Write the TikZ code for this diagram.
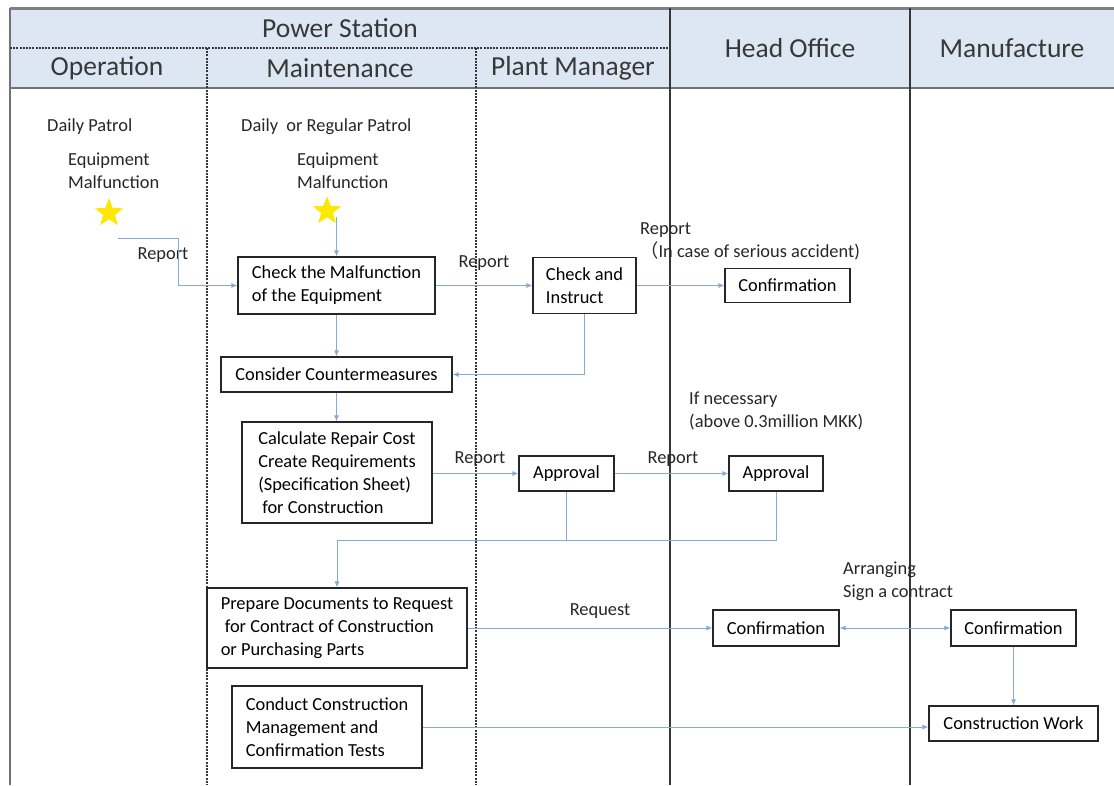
\documentclass[tikz,border=0pt]{standalone}
\usepackage{fontspec}
\setmainfont{Carlito}
\newfontfamily\cjk{Noto Sans CJK JP}
\usetikzlibrary{arrows.meta,calc,positioning,shapes.geometric}

\definecolor{headblue}{RGB}{221,231,243}
\definecolor{flowblue}{RGB}{135,170,210}
\definecolor{lanegray}{RGB}{55,55,55}
\definecolor{stargold}{RGB}{255,232,0}

\begin{document}
\begin{tikzpicture}[x=1pt,y=-1pt,>={Latex[length=6pt,width=5pt]},
    box/.style={draw=black!85,line width=1.1pt,fill=white,align=left,inner sep=2pt,
      font=\fontsize{18.4}{23}\selectfont},
    lbl/.style={align=left,inner sep=0pt,text=black!85,font=\fontsize{18.4}{23}\selectfont},
    hdr/.style={inner sep=0pt,text=black!78,font=\fontsize{27.5}{30}\selectfont},
    flow/.style={draw=flowblue,line width=1pt,->},
    flowline/.style={draw=flowblue,line width=1pt},
    lane/.style={draw=lanegray,line width=1.5pt},
    sublane/.style={draw=lanegray,line width=1.1pt,dash pattern=on 2pt off 1.2pt},
    patrolstar/.style={star,star points=5,star point ratio=2.4,fill=stargold,minimum size=30pt,inner sep=0pt}]
  \useasboundingbox (0,0) rectangle (1114,785);
  % header band and lanes
  \fill[headblue] (10,8) rectangle (1114,88);
  \draw[draw=black!50,line width=3pt] (10,8) -- (1114,8);
  \draw[draw=black!55,line width=2pt] (10,88) -- (1114,88);
  \draw[draw=black!55,line width=1.5pt] (10,8) -- (10,785);
  \draw[sublane] (10,48) -- (670,48);
  \draw[sublane] (207,48) -- (207,785);
  \draw[sublane] (476,48) -- (476,785);
  \draw[lane] (670,8) -- (670,785);
  \draw[lane] (910,8) -- (910,785);
  \node[hdr] (station) at (340,28) {Power Station};
  \node[hdr] (operation) at (107,68) {Operation};
  \node[hdr] (maint) at (340,68) {Maintenance};
  \node[hdr] (manager) at (573,68) {Plant Manager};
  \node[hdr] (office) at (790,48) {Head Office};
  \node[hdr] (maker) at (1012,48) {Manufacture};

  % patrols
  \node[lbl,anchor=west] (dpatrol) at (47,127) {Daily Patrol};
  \node[lbl,anchor=west] (malf1) at (68,171) {Equipment\\Malfunction};
  \node[patrolstar] (st1) at (109,213) {};
  \node[lbl,anchor=west] (rpatrol) at (241,127) {Daily~ or Regular Patrol};
  \node[lbl,anchor=west] (malf2) at (297,171) {Equipment\\Malfunction};
  \node[patrolstar] (st2) at (327,211) {};
  \coordinate (rep1) at (118,238);

  % boxes
  \node[box,minimum width=197pt,minimum height=57pt] (chk) at (336.5,285.5) {Check the Malfunction\\of the Equipment};
  \node[box,minimum width=103pt,minimum height=56pt] (inst) at (584.5,285.5) {Check and\\Instruct};
  \node[box,minimum width=125pt,minimum height=34pt] (conf1) at (787.5,285.5) {Confirmation};
  \node[box,minimum width=231pt,minimum height=35pt] (cntr) at (336.5,374.5) {Consider Countermeasures};
  \node[box,minimum width=190pt,minimum height=101pt] (calc) at (337,472.5) {Calculate Repair Cost\\Create Requirements\\(Specification Sheet)\\\hspace{4pt}for Construction};
  \node[box,minimum width=95pt,minimum height=35pt] (appr1) at (566.5,473.5) {Approval};
  \node[box,minimum width=94pt,minimum height=35pt] (appr2) at (776,473.5) {Approval};
  \node[box,minimum width=260pt,minimum height=80pt] (prep) at (337,628) {Prepare Documents to Request\\\hspace{4pt}for Contract of Construction\\or Purchasing Parts};
  \node[box,minimum width=126pt,minimum height=36pt] (conf2) at (776,628) {Confirmation};
  \node[box,minimum width=125pt,minimum height=36pt] (conf3) at (1013.5,628) {Confirmation};
  \node[box,minimum width=169pt,minimum height=35pt] (work) at (1013.5,723.5) {Construction Work};
  \node[box,minimum width=190pt,minimum height=82pt] (cond) at (327,727) {Conduct Construction\\Management and\\Confirmation Tests};
  \coordinate (mrg) at (337,540);

  % labels
  \node[lbl] (rlab1) at (163,255) {Report};
  \node[lbl] (rlab2) at (484,263) {Report};
  \node[lbl,anchor=west] (rlab3) at (640,241) {Report\\{\cjk （}In case of serious accident)};
  \node[lbl,anchor=west] (need) at (689,411) {If necessary\\(above 0.3million MKK)};
  \node[lbl] (rlab4) at (480,459) {Report};
  \node[lbl] (rlab5) at (673,459) {Report};
  \node[lbl] (req) at (600,611) {Request};
  \node[lbl,anchor=west] (arr) at (843,581) {Arranging\\Sign a contract};

  % flows
  \draw[flow] (rep1) -- ++(60,0) |- (chk.west);
  \draw[flow] (chk.north |- st2.south) -- (chk.north);
  \draw[flow] (chk.east) -- (inst.west);
  \draw[flow] (inst.east) -- (conf1.west);
  \draw[flow] (inst.south) |- (cntr.east);
  \draw[flow] (chk.south) -- (cntr.north);
  \draw[flow] (cntr.south) -- (cntr.south |- calc.north);
  \draw[flow] (calc.east |- appr1.west) -- (appr1.west);
  \draw[flow] (appr1.east) -- (appr2.west);
  \draw[flowline] (appr1.south) -- (appr1.south |- mrg);
  \draw[flow] (appr2.south) |- (mrg) -- (prep.north);
  \draw[flow] (prep.east) -- (conf2.west);
  \draw[flow,<->] (conf2.east) -- (conf3.west);
  \draw[flow] (conf3.south) -- (work.north);
  \draw[flow] (cond.east) -- (cond.east -| work.west);
\end{tikzpicture}
\end{document}
